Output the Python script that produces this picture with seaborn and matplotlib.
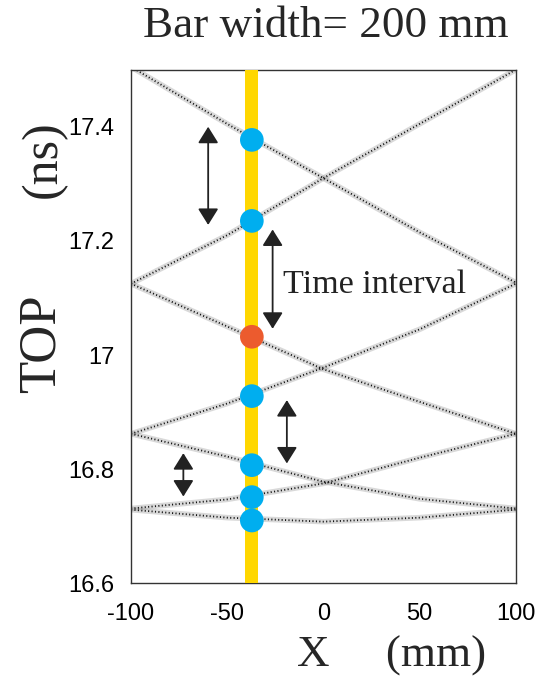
import numpy as np
import pandas as pd
import matplotlib
matplotlib.use('Agg')
import matplotlib.pyplot as plt
import seaborn as sns

band_x = [-100, -50, 0, 50, 100]

# TOP (ns) of each reflection band at band_x
band_d1 = [17.505, 17.405, 17.31, 17.215, 17.127]
band_a1 = [17.125, 17.21, 17.31, 17.405, 17.5]
band_d2 = [17.125, 17.05, 16.975, 16.918, 16.862]
band_a2 = [16.862, 16.915, 16.978, 17.045, 17.125]
band_d3 = [16.862, 16.822, 16.778, 16.748, 16.731]
band_a3 = [16.731, 16.747, 16.775, 16.82, 16.862]
band_b = [16.729, 16.715, 16.708, 16.715, 16.729]

# hits seen by the bar at x = hit_x
hit_x = -37.2
hit_t = [17.377, 17.235, 17.032, 16.928, 16.807, 16.751, 16.710]
hit_kind = ['other', 'other', 'first', 'other', 'other', 'other', 'other']

# double arrows marking the time intervals
arrow_x = [-59.9, -26.4, -19.0, -72.8]
arrow_top = [17.400, 17.220, 16.921, 16.828]
arrow_bottom = [17.228, 17.046, 16.810, 16.752]

bar_left, bar_right = -40.7, -33.9

xticks = [-100, -50, 0, 50, 100]
xtick_labels = ['-100', '-50', '0', '50', '100']
yticks = [16.6, 16.8, 17.0, 17.2, 17.4]
ytick_labels = ['16.6', '16.8', '17', '17.2', '17.4']

bands = {'d1': band_d1, 'a1': band_a1, 'd2': band_d2, 'a2': band_a2,
         'd3': band_d3, 'a3': band_a3, 'b': band_b}
rows = []
for name, vals in bands.items():
    for x, t in zip(band_x, vals):
        rows.append({'band': name, 'x': x, 't': t})
df = pd.DataFrame(rows)

hits = pd.DataFrame({'x': [hit_x] * len(hit_t), 't': hit_t, 'kind': hit_kind})

sns.set_style('white')
plt.rcParams['font.family'] = ['Liberation Sans', 'DejaVu Sans']
serif = ['Liberation Serif', 'DejaVu Serif']

fig = plt.figure(figsize=(5.37, 6.78), dpi=100)
ax = fig.add_axes([0.244, 0.1397, 0.7165, 0.7575])

# faint wide band under a dotted core, to look like a scatter of hits
sns.lineplot(data=df, x='x', y='t', units='band', estimator=None, sort=False,
             color='#555555', lw=4, alpha=0.22, ax=ax, zorder=1)
sns.lineplot(data=df, x='x', y='t', units='band', estimator=None, sort=False,
             color='#111111', lw=1.3, linestyle=(0, (0.6, 1.3)), ax=ax, zorder=2)

ax.axvspan(bar_left, bar_right, color='#FFD700', lw=0, zorder=3)

sns.scatterplot(data=hits, x='x', y='t', hue='kind',
                palette={'other': '#00AEEF', 'first': '#EC5B2E'},
                s=290, linewidth=0, legend=False, ax=ax, zorder=4)

for x, t0, t1 in zip(arrow_x, arrow_top, arrow_bottom):
    ax.annotate('', xy=(x, t0), xytext=(x, t1),
                arrowprops=dict(arrowstyle='<|-|>,head_length=0.4,head_width=0.25',
                                mutation_scale=25, color='#222222', lw=1.3,
                                shrinkA=0, shrinkB=0),
                zorder=5)

ax.text(-20.9, 17.109, 'Time interval', ha='left', va='baseline',
        fontsize=24.5, family=serif, color='#222222', zorder=6)

ax.set_xlim(-100, 100)
ax.set_ylim(16.6, 17.5)
ax.set_xticks(xticks)
ax.set_xticklabels(xtick_labels)
ax.set_yticks(yticks)
ax.set_yticklabels(ytick_labels)
ax.tick_params(axis='both', direction='in', length=4, width=1, colors='#222222',
               labelsize=17, labelcolor='black')
ax.tick_params(axis='x', pad=14)
ax.tick_params(axis='y', pad=12)
ax.set_xlabel('')
ax.set_ylabel('')
for s in ax.spines.values():
    s.set_color('#333333')
    s.set_linewidth(1)

ax.text(0.507, 1.0637, 'Bar width= 200 mm', transform=ax.transAxes,
        ha='center', va='baseline', fontsize=32.5, family=serif)
ax.text(0.676, -0.163, 'X     (mm)', transform=ax.transAxes,
        ha='center', va='baseline', fontsize=32.5, family=serif)
ax.text(-0.195, 0.826, '(ns)', transform=ax.transAxes, rotation=90,
        rotation_mode='anchor', ha='center', va='baseline', fontsize=36, family=serif)
ax.text(-0.2, 0.466, 'TOP', transform=ax.transAxes, rotation=90,
        rotation_mode='anchor', ha='center', va='baseline', fontsize=38, family=serif)

fig.savefig('out.png', dpi=100)
